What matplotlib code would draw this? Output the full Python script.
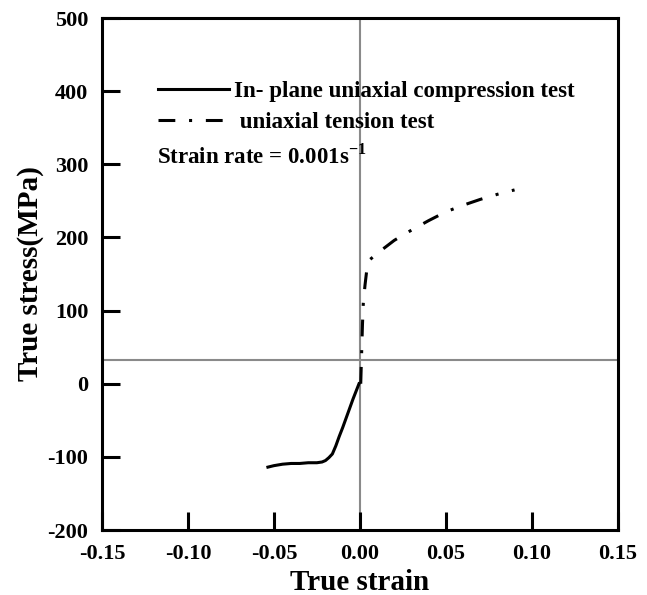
import matplotlib
matplotlib.use("Agg")
import matplotlib.pyplot as plt

# ---------------------------------------------------------------------------
# Data (true strain / true stress in MPa)
# ---------------------------------------------------------------------------

comp_strain = [-0.0535, -0.050, -0.045, -0.040, -0.035, -0.030, -0.025, -0.022,
               -0.020, -0.018, -0.016, -0.014, -0.012, -0.010, -0.008, -0.006,
               -0.004, -0.002, -0.0005]
comp_stress = [-114, -112, -110, -109, -109, -108, -108, -107,
               -105, -101, -96, -85, -72, -60, -47, -34,
               -21, -9, 0]

tens_strain = [0.0005, 0.001, 0.0015, 0.002, 0.003, 0.004, 0.006, 0.010,
               0.015, 0.020, 0.030, 0.040, 0.050, 0.060, 0.070, 0.080, 0.090]
tens_stress = [0, 40, 80, 110, 135, 155, 170, 178,
               187, 196, 210, 223, 235, 244, 252, 259, 265]

ref_strain = 0.0
ref_stress = 33

x_ticks = [-0.15, -0.10, -0.05, 0.00, 0.05, 0.10, 0.15]
y_ticks = [-200, -100, 0, 100, 200, 300, 400, 500]

# ---------------------------------------------------------------------------
# Style
# ---------------------------------------------------------------------------

plt.rcParams["font.family"] = ["Liberation Serif", "DejaVu Serif"]
plt.rcParams["font.weight"] = "bold"
plt.rcParams["axes.unicode_minus"] = False
plt.rcParams["mathtext.fontset"] = "custom"
plt.rcParams["mathtext.rm"] = "Liberation Serif:bold"
plt.rcParams["mathtext.bf"] = "Liberation Serif:bold"

fig = plt.figure(figsize=(6.47, 5.95), dpi=100)
ax = fig.add_axes([0.1577, 0.1092, 0.797, 0.8605])

ax.axvline(ref_strain, color="#8a8a8a", linewidth=1.5, zorder=1)
ax.axhline(ref_stress, color="#8a8a8a", linewidth=1.5, zorder=1)

ax.plot(comp_strain, comp_stress, color="black", linewidth=2.2,
        label="In- plane uniaxial compression test", zorder=3)
ax.plot(tens_strain, tens_stress, color="black", linewidth=2.2,
        linestyle=(0, (5.5, 4.5, 1, 4.5)), dash_capstyle="butt",
        label=" uniaxial tension test", zorder=3)

ax.set_xlim(x_ticks[0], x_ticks[-1])
ax.set_ylim(y_ticks[0], y_ticks[-1])
ax.set_xticks(x_ticks)
ax.set_xticklabels([f"{t:.2f}" for t in x_ticks])
ax.set_yticks(y_ticks)
ax.set_yticklabels([str(t) for t in y_ticks])

ax.tick_params(direction="in", length=13, width=2.2, labelsize=16,
               top=False, right=False)
ax.tick_params(axis="x", pad=10)
ax.tick_params(axis="y", pad=10)
for side in ax.spines.values():
    side.set_linewidth(2.2)

ax.set_xlabel("True strain", fontsize=21, fontweight="bold", labelpad=4)
ax.set_ylabel("True stress(MPa)", fontsize=21, fontweight="bold", labelpad=2)

leg = ax.legend(loc="upper left", bbox_to_anchor=(0.108, 0.878),
                frameon=False, fontsize=16.5, handlelength=3.1,
                handletextpad=0.25, labelspacing=0.45, borderpad=0,
                borderaxespad=0)
for txt in leg.get_texts():
    txt.set_fontweight("bold")

ax.text(0.106, 0.730, r"Strain rate = 0.001s$^{-1}$", transform=ax.transAxes,
        fontsize=16.5, fontweight="bold", va="center", ha="left")

fig.savefig("out.png", dpi=100)
